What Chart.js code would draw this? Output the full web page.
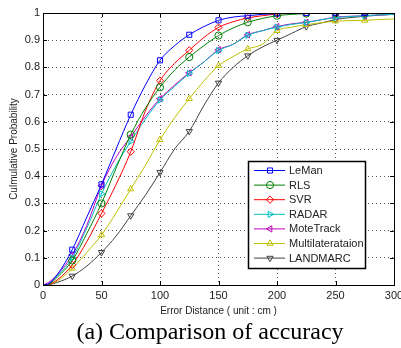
<!DOCTYPE html>
<html>
<head>
<meta charset="utf-8">
<script src="https://cdn.jsdelivr.net/npm/chart.js@4.4.1/dist/chart.umd.min.js"></script>
<style>
  html, body { margin: 0; padding: 0; background: #fff; }
  #wrap { width: 401px; height: 348px; position: relative; }
</style>
</head>
<body>
<div id="wrap"><canvas id="cdfChart"></canvas></div>
<script>
// error distance (cm) where each curve is sampled
const distances = [0, 5, 12.5, 25, 37.5, 50, 62.5, 75, 87.5, 100, 112.5, 125, 137.5, 150,
  162.5, 175, 187.5, 200, 212.5, 225, 237.5, 250, 262.5, 275, 287.5, 300];

// cumulative probability
const leman = [0, 0.005, 0.04, 0.13, 0.25, 0.37, 0.5, 0.626, 0.735, 0.826, 0.88, 0.92, 0.95, 0.973,
  0.985, 0.99, 0.995, 0.998, 0.999, 1, 1, 1, 1, 1, 1, 1];
const rls = [0, 0.003, 0.03, 0.09, 0.19, 0.3, 0.43, 0.553, 0.65, 0.727, 0.79, 0.838, 0.88, 0.917,
  0.945, 0.966, 0.98, 0.99, 0.995, 0.998, 0.999, 1, 1, 1, 1, 1];
const svr = [0, 0.002, 0.02, 0.074, 0.16, 0.263, 0.37, 0.49, 0.64, 0.751, 0.815, 0.863, 0.91, 0.947,
  0.968, 0.982, 0.99, 0.996, 0.999, 1, 1, 1, 1, 1, 1, 1];
const radar = [0, 0.005, 0.035, 0.1, 0.21, 0.335, 0.44, 0.528, 0.61, 0.68, 0.73, 0.778, 0.82, 0.862,
  0.885, 0.918, 0.935, 0.948, 0.958, 0.965, 0.975, 0.983, 0.987, 0.99, 0.993, 0.995];
const moteTrack = [0, 0.01, 0.04, 0.11, 0.22, 0.365, 0.47, 0.545, 0.62, 0.685, 0.735, 0.78, 0.82, 0.865,
  0.885, 0.92, 0.935, 0.95, 0.96, 0.966, 0.975, 0.985, 0.988, 0.99, 0.993, 0.995];
const multilateration = [0, 0.002, 0.015, 0.061, 0.12, 0.184, 0.265, 0.353, 0.44, 0.534, 0.615, 0.685, 0.75, 0.806,
  0.84, 0.868, 0.885, 0.935, 0.948, 0.957, 0.964, 0.97, 0.972, 0.973, 0.976, 0.978];
const landmarc = [0, 0.001, 0.01, 0.033, 0.07, 0.12, 0.18, 0.255, 0.33, 0.414, 0.5, 0.565, 0.66, 0.743,
  0.8, 0.843, 0.875, 0.9, 0.925, 0.95, 0.963, 0.976, 0.983, 0.988, 0.992, 0.995];

const xTicks = [0, 50, 100, 150, 200, 250, 300];
const yTicks = [0, 0.1, 0.2, 0.3, 0.4, 0.5, 0.6, 0.7, 0.8, 0.9, 1];

const series = [
  { label: "LeMan", values: leman, color: "#0000ff", style: "rect", rot: 0 },
  { label: "RLS", values: rls, color: "#008000", style: "circle", rot: 0 },
  { label: "SVR", values: svr, color: "#ff0000", style: "rectRot", rot: 0 },
  { label: "RADAR", values: radar, color: "#00bfbf", style: "triangle", rot: 90 },
  { label: "MoteTrack", values: moteTrack, color: "#bf00bf", style: "triangle", rot: -90 },
  { label: "Multilaterataion", values: multilateration, color: "#bfbf00", style: "triangle", rot: 0 },
  { label: "LANDMARC", values: landmarc, color: "#404040", style: "triangle", rot: 180 },
];

const caption = "(a) Comparison of accuracy";

const FONT = "'Liberation Sans', Arial, sans-serif";

function markerRadius(ctx) {
  const d = distances[ctx.dataIndex];
  return d > 0 && d < 300 && d % 25 === 0 ? 3.6 : 0;
}

// box, inner ticks, the legend inside the plot and the caption
const matlabBox = {
  id: "matlabBox",
  afterDraw(chart) {
    const ctx = chart.ctx;
    const a = chart.chartArea;
    const xs = chart.scales.x, ys = chart.scales.y;
    ctx.save();
    ctx.strokeStyle = "#000";
    ctx.lineWidth = 1;
    ctx.strokeRect(Math.round(a.left) + 0.5, Math.round(a.top) + 0.5,
      Math.round(a.right - a.left), Math.round(a.bottom - a.top));
    ctx.beginPath();
    xTicks.forEach(v => {
      const px = Math.round(xs.getPixelForValue(v)) + 0.5;
      ctx.moveTo(px, a.bottom); ctx.lineTo(px, a.bottom - 4);
      ctx.moveTo(px, a.top); ctx.lineTo(px, a.top + 4);
    });
    yTicks.forEach(v => {
      const py = Math.round(ys.getPixelForValue(v)) + 0.5;
      ctx.moveTo(a.left, py); ctx.lineTo(a.left + 4, py);
      ctx.moveTo(a.right, py); ctx.lineTo(a.right - 4, py);
    });
    ctx.stroke();

    // legend
    const lw = 117, lh = 107;
    const lx = Math.round(a.right) - 146, ly = Math.round(a.bottom) - 124;
    ctx.fillStyle = "#fff";
    ctx.fillRect(lx, ly, lw, lh);
    ctx.lineWidth = 1.5;
    ctx.strokeStyle = "#000";
    ctx.strokeRect(lx + 0.5, ly + 0.5, lw, lh);
    ctx.font = "11px " + FONT;
    ctx.textBaseline = "middle";
    series.forEach((s, i) => {
      const cy = ly + 9.5 + i * 14.6;
      ctx.strokeStyle = s.color;
      ctx.lineWidth = 1;
      ctx.beginPath();
      ctx.moveTo(lx + 6, cy); ctx.lineTo(lx + 37, cy);
      ctx.stroke();
      ctx.fillStyle = "rgba(0,0,0,0)";
      Chart.helpers.drawPoint(ctx, { pointStyle: s.style, rotation: s.rot, radius: 3.6, borderWidth: 1 }, lx + 22, cy);
      ctx.fillStyle = "#222";
      ctx.fillText(s.label, lx + 41, cy + 0.5);
    });

    // caption under the figure
    ctx.fillStyle = "#000";
    ctx.font = "24px 'Liberation Serif', 'Times New Roman', serif";
    ctx.textAlign = "center";
    ctx.textBaseline = "alphabetic";
    ctx.fillText(caption, 210, 339);
    ctx.restore();
  }
};

new Chart(document.getElementById("cdfChart"), {
  type: "line",
  data: {
    datasets: series.map(s => ({
      label: s.label,
      data: distances.map((d, i) => ({ x: d, y: s.values[i] })),
      borderColor: s.color,
      backgroundColor: "rgba(0,0,0,0)",
      borderWidth: 1,
      pointStyle: s.style,
      pointRotation: s.rot,
      pointRadius: markerRadius,
      pointBorderWidth: 1,
      pointBorderColor: s.color,
      pointBackgroundColor: "rgba(0,0,0,0)",
      cubicInterpolationMode: "monotone",
      fill: false,
    })),
  },
  options: {
    responsive: true,
    maintainAspectRatio: false,
    animation: false,
    layout: { padding: { top: 13, right: 7, left: 0, bottom: 31 } },
    plugins: {
      legend: { display: false },
      tooltip: { enabled: false },
    },
    scales: {
      x: {
        type: "linear",
        min: 0,
        max: 300,
        afterBuildTicks: s => { s.ticks = xTicks.map(v => ({ value: v })); },
        afterFit: s => { s.height = 32; s.paddingLeft = 0; s.paddingRight = 0; },
        ticks: { color: "#222", font: { family: FONT, size: 11 }, padding: 4, maxRotation: 0 },
        grid: { color: "rgba(0,0,0,0.65)", drawTicks: false, lineWidth: 1 },
        border: { display: true, color: "#000", dash: [1, 3] },
        title: {
          display: true,
          text: "Error Distance ( unit : cm )",
          color: "#222",
          font: { family: FONT, size: 10 },
          padding: { top: 0, bottom: 0 },
        },
      },
      y: {
        min: 0,
        max: 1,
        afterBuildTicks: s => { s.ticks = yTicks.map(v => ({ value: v })); },
        afterFit: s => { s.width = 43; },
        ticks: {
          color: "#222",
          font: { family: FONT, size: 11 },
          padding: 3,
          callback: v => (v === 0 || v === 1 ? String(v) : v.toFixed(1)),
        },
        grid: { color: "rgba(0,0,0,0.65)", drawTicks: false, lineWidth: 1 },
        border: { display: true, color: "#000", dash: [1, 3] },
        title: {
          display: true,
          text: "Culmulative Probability",
          color: "#222",
          font: { family: FONT, size: 10 },
          padding: { top: 8, bottom: 0 },
        },
      },
    },
  },
  plugins: [matlabBox],
});
</script>
</body>
</html>
